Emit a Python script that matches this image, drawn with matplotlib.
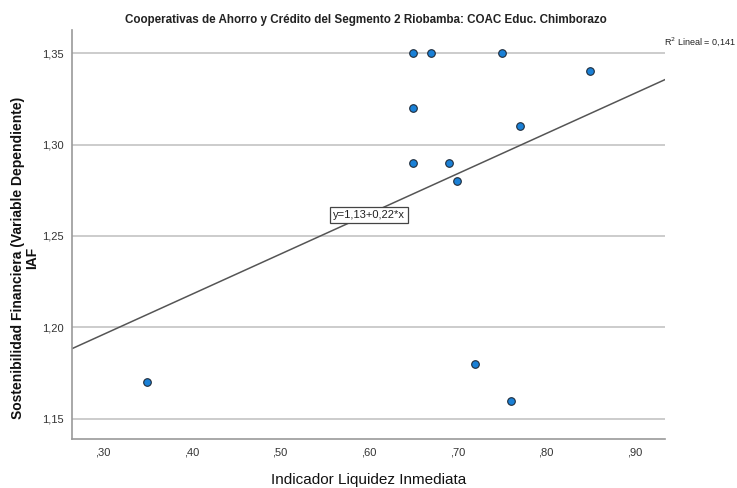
import matplotlib
matplotlib.use("Agg")
import matplotlib.pyplot as plt

FONT = ["Liberation Sans", "DejaVu Sans"]
plt.rcParams["font.family"] = FONT

# Data
x_vals = [0.35, 0.65, 0.67, 0.75, 0.85, 0.65, 0.77, 0.65, 0.69, 0.70, 0.72, 0.76]
y_vals = [1.17, 1.35, 1.35, 1.35, 1.34, 1.32, 1.31, 1.29, 1.29, 1.28, 1.18, 1.16]
intercept = 1.13
slope = 0.22
r2 = "0,141"
x_ticks = [0.30, 0.40, 0.50, 0.60, 0.70, 0.80, 0.90]
x_ticklabels = [",30", ",40", ",50", ",60", ",70", ",80", ",90"]
y_ticks = [1.15, 1.20, 1.25, 1.30, 1.35]
y_ticklabels = ["1,15", "1,20", "1,25", "1,30", "1,35"]
title = "Cooperativas de Ahorro y Crédito del Segmento 2 Riobamba: COAC Educ. Chimborazo"
xlabel = "Indicador Liquidez Inmediata"
ylabel = "Sostenibilidad Financiera (Variable Dependiente)\nIAF"
eq_label = "y=1,13+0,22*x"

fig = plt.figure(figsize=(7.37, 4.88), dpi=100)
ax = fig.add_axes([72/737, 49/488, (665-72)/737, (439-30)/488])

xmin, xmax = 0.2654, 0.934
ymin, ymax = 1.139, 1.3626
ax.set_xlim(xmin, xmax)
ax.set_ylim(ymin, ymax)

for yt in y_ticks:
    ax.axhline(yt, color="#c8c8c8", lw=1.3, zorder=1)

ax.plot([xmin, xmax], [intercept + slope*xmin, intercept + slope*xmax],
        color="#555555", lw=1.1, zorder=2)

ax.scatter(x_vals, y_vals, s=30, facecolor="#1a80d6", edgecolor="#1e2b3a",
           linewidth=0.8, zorder=3)

ax.text(0.600, 1.2615, eq_label, ha="center", va="center", fontsize=8,
        color="#222222",
        bbox=dict(boxstyle="square,pad=0.25", facecolor="white", edgecolor="#444444", lw=0.9),
        zorder=4)

ax.set_xticks(x_ticks)
ax.set_xticklabels(x_ticklabels, fontsize=8, color="#333333")
ax.set_yticks(y_ticks)
ax.set_yticklabels(y_ticklabels, fontsize=8, color="#333333")
ax.tick_params(length=0, pad=6)

for s in ["top", "right"]:
    ax.spines[s].set_visible(False)
for s in ["left", "bottom"]:
    ax.spines[s].set_color("#999999")
    ax.spines[s].set_linewidth(1.2)

fig.text(366/737, 1 - 20/488, title, ha="center", va="center", fontsize=8.4,
         fontweight="bold", color="#222222")
fig.text(664/737, 1 - 42/488, "R$^2$ Lineal = " + r2, ha="left", va="center",
         fontsize=6.5, color="#222222")
fig.text(369/737, 1 - 480/488, xlabel, ha="center", va="center", fontsize=11,
         color="#111111")
fig.text(25/737, 1 - 258/488, ylabel, ha="center", va="center", fontsize=10,
         fontweight="bold", rotation=90, color="#111111", linespacing=0.95)

fig.savefig("out.png", dpi=100)
